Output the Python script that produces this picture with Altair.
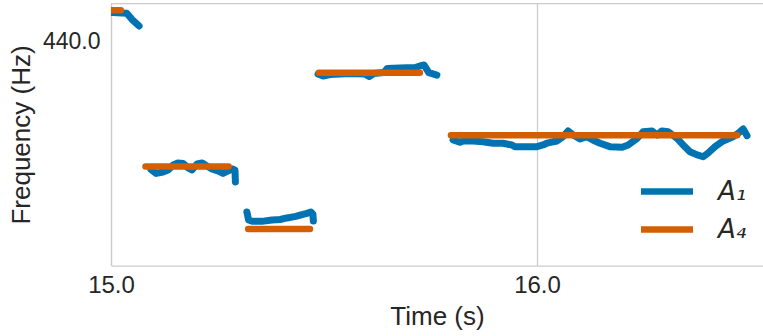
import altair as alt
import pandas as pd

# Pitch contour (series A1): time in seconds, frequency in Hz, one list per voiced stretch
a1_time = [
    [15.004, 15.037, 15.049, 15.066],
    [15.094, 15.106, 15.122, 15.134, 15.146, 15.157, 15.169, 15.181, 15.190, 15.202,
     15.214, 15.225, 15.237, 15.251, 15.263, 15.275, 15.284, 15.291, 15.292],
    [15.319, 15.323, 15.333, 15.354, 15.378, 15.397, 15.413, 15.434, 15.446, 15.460,
     15.469, 15.474, 15.475],
    [15.486, 15.498, 15.514, 15.561, 15.596, 15.606, 15.617, 15.641, 15.648, 15.678,
     15.714, 15.730, 15.735, 15.746, 15.765],
    [15.803, 15.819, 15.826, 15.850, 15.873, 15.897, 15.920, 15.941, 15.948, 16.000,
     16.014, 16.023, 16.047, 16.061, 16.073, 16.085, 16.101, 16.117, 16.131, 16.148,
     16.171, 16.200, 16.214, 16.235, 16.249, 16.270, 16.282, 16.293, 16.308, 16.329,
     16.343, 16.359, 16.376, 16.390, 16.401, 16.418, 16.437, 16.460, 16.472, 16.484,
     16.493],
]
a1_freq = [
    [464.1, 463.4, 458.3, 452.7],
    [347.3, 344.8, 345.7, 347.0, 350.2, 351.5, 351.2, 348.3, 347.0, 350.9,
     351.5, 349.6, 347.7, 346.4, 344.8, 346.4, 347.7, 347.0, 339.4],
    [321.1, 316.4, 315.6, 315.6, 316.4, 316.7, 317.6, 318.5, 319.4, 320.3,
     321.1, 319.8, 315.8],
    [414.3, 412.8, 413.9, 414.7, 414.3, 412.4, 414.7, 415.5, 418.5, 418.9,
     419.3, 420.9, 421.2, 415.3, 413.5],
    [366.8, 365.2, 366.1, 366.1, 365.6, 364.6, 364.6, 363.4, 362.3, 362.3,
     363.4, 364.6, 366.1, 369.0, 372.9, 370.2, 367.5, 369.0, 366.8, 364.6,
     362.3, 361.9, 363.4, 367.9, 372.4, 372.9, 370.2, 372.9, 372.4, 367.9,
     363.4, 358.9, 356.8, 355.6, 357.9, 362.3, 366.1, 369.0, 371.3, 374.3,
     369.7],
]

# Note segments (series A4): onset, offset and nominal pitch in Hz
a4_start = [14.995, 15.081, 15.322, 15.488, 15.798]
a4_end = [15.023, 15.276, 15.467, 15.725, 16.470]
a4_freq = [466.16, 349.23, 311.13, 415.30, 369.99]

series_names = ["A\u2081", "A\u2084"]
series_colors = ["#0173b2", "#d55e00"]

x_ticks = [15.0, 16.0]
y_ticks = [440.0]

W, H = 652, 262
X_DOMAIN = [15.0, 16.5305]
Y_DOMAIN = [290.9, 471.9]
FRAME = "#cccccc"
INK = "#262626"

rows_a1 = []
for k, (ts, fs) in enumerate(zip(a1_time, a1_freq)):
    for t, f in zip(ts, fs):
        rows_a1.append({"t": t, "f": f, "seg": k, "series": series_names[0]})
df_a1 = pd.DataFrame(rows_a1)

rows_a4 = []
for k, (t0, t1, f) in enumerate(zip(a4_start, a4_end, a4_freq)):
    rows_a4.append({"t": t0, "f": f, "seg": k, "series": series_names[1]})
    rows_a4.append({"t": t1, "f": f, "seg": k, "series": series_names[1]})
df_a4 = pd.DataFrame(rows_a4)

x_enc = alt.X(
    "t:Q",
    scale=alt.Scale(domain=X_DOMAIN, nice=False, zero=False),
    axis=alt.Axis(values=x_ticks, format=".1f", title="Time (s)", grid=True,
                  ticks=False, labelFlush=False, labelPadding=8, titlePadding=6),
)
y_enc = alt.Y(
    "f:Q",
    scale=alt.Scale(type="log", domain=Y_DOMAIN, nice=False, zero=False),
    axis=alt.Axis(values=y_ticks, format=".1f", title="Frequency (Hz)", grid=False,
                  ticks=False, labelFlush=False, labelPadding=11, titlePadding=8,
                  labelFontSize=23),
)
color_enc = alt.Color(
    "series:N",
    scale=alt.Scale(domain=series_names, range=series_colors),
    legend=alt.Legend(
        title=None, orient="none", legendX=535, legendY=167,
        symbolType="M-1.5,0H1.5", symbolStrokeWidth=6.5, symbolSize=1202,
        labelFont="DejaVu Sans", labelFontStyle="italic", labelFontSize=26,
        labelColor=INK, labelOffset=30, rowPadding=4, padding=0,
    ),
)

contour = alt.Chart(df_a1).mark_line(
    strokeWidth=7, strokeCap="round", strokeJoin="round", clip=True
).encode(x=x_enc, y=y_enc, color=color_enc, detail="seg:N")
notes = alt.Chart(df_a4).mark_line(
    strokeWidth=6.5, strokeCap="round", strokeJoin="round", clip=True
).encode(x=x_enc, y=y_enc, color=color_enc, detail="seg:N")
top_edge = alt.Chart(pd.DataFrame({"k": [0]})).mark_rule(
    color=FRAME, strokeWidth=1.25
).encode(x=alt.value(0), x2=alt.value(W), y=alt.value(0))

chart = (
    alt.layer(contour, notes, top_edge)
    .properties(
        width=W, height=H,
        autosize=alt.AutoSizeParams(type="none"),
        padding={"left": 111, "top": 3.5, "right": 0, "bottom": 70.5},
    )
    .configure_view(stroke=None)
    .configure_axis(
        labelFont="Liberation Sans", labelFontSize=24, labelColor=INK,
        titleFont="Liberation Sans", titleFontSize=26, titleFontWeight="normal",
        titleColor=INK, domainColor=FRAME, domainWidth=1.25,
        gridColor=FRAME, gridWidth=1.25,
    )
)

chart.save("out.html", embed_options={"renderer": "svg", "actions": False})
